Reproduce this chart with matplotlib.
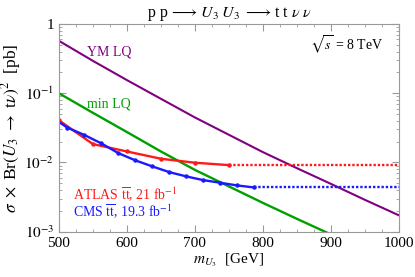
import matplotlib
matplotlib.use('Agg')
import matplotlib.pyplot as plt
from matplotlib.ticker import FixedLocator, NullFormatter, LogLocator

plt.rcParams['font.family'] = ['Liberation Serif', 'DejaVu Serif']
plt.rcParams['mathtext.fontset'] = 'stix'

# theory curves
m_theory = [500, 550, 600, 650, 700, 750, 800, 850, 900, 950, 1000]
ym_lq = [0.573, 0.294, 0.155, 0.0832, 0.0447, 0.0251, 0.0141, 0.00826, 0.0049, 0.00288, 0.00172]
m_min = [500, 550, 600, 650, 700, 750, 800, 850, 900]
min_lq = [0.1, 0.0521, 0.0275, 0.0144, 0.0078, 0.0045, 0.0026, 0.00153, 0.00091]

# ATLAS limit
m_atlas = [500, 550, 600, 650, 700, 750]
atlas = [0.0406, 0.0184, 0.0144, 0.0113, 0.0099, 0.00914]
m_atlas_ext = [750, 1000]
atlas_ext = [0.00914, 0.00914]

# CMS limit
m_cms = [500, 512.5, 537.5, 562.5, 587.5, 612.5, 637.5, 662.5, 687.5, 712.5, 737.5, 762.5, 787.5]
cms = [0.0384, 0.0318, 0.0249, 0.0188, 0.0136, 0.0107, 0.00875, 0.00723, 0.00627, 0.00554,
       0.00508, 0.00464, 0.00434]
m_cms_ext = [787.5, 1000]
cms_ext = [0.00434, 0.00434]

fig = plt.figure(figsize=(4.15, 2.77), dpi=100)
ax = fig.add_axes([0.142, 0.164, 0.819, 0.749])

purple = '#800080'
green = '#00a000'
red = '#ff1a1a'
blue = '#1a1aff'

ax.plot(m_theory, ym_lq, color=purple, lw=1.5)
ax.plot(m_min, min_lq, color=green, lw=1.7)
ax.plot(m_atlas, atlas, color=red, lw=1.7, marker='o', ms=2.2)
ax.plot(m_atlas_ext, atlas_ext, color=red, lw=1.7, ls=(0, (1, 0.8)))
ax.plot(m_cms, cms, color=blue, lw=1.7, marker='o', ms=2.2, markevery=range(1, len(m_cms)))
ax.plot(m_cms_ext, cms_ext, color=blue, lw=1.7, ls=(0, (1, 0.8)))

ax.set_yscale('log')
ax.set_xlim(500, 1000)
ax.set_ylim(1e-3, 1)
ax.set_xticks([500, 600, 700, 800, 900, 1000])
ax.xaxis.set_minor_locator(FixedLocator(range(500, 1001, 25)))
ax.set_yticks([1e-3, 1e-2, 1e-1, 1])
ax.set_yticklabels([r'$10^{-3}$', r'$10^{-2}$', r'$10^{-1}$', '1'])
ax.yaxis.set_minor_locator(LogLocator(base=10, subs=range(2, 10)))
ax.yaxis.set_minor_formatter(NullFormatter())

for s in ax.spines.values():
    s.set_color('#999999')
ax.tick_params(which='both', direction='in', top=True, right=True, color='#999999',
               labelsize=11)
ax.tick_params(axis='x', pad=4)
ax.tick_params(which='major', length=5)
ax.tick_params(which='minor', length=2.5)

ax.set_title(r'p p$\,\longrightarrow\, U_3\;U_3\;\longrightarrow\,$t t $\nu\;\nu$', fontsize=11.5, pad=5)
ax.set_xlabel(r'$m_{U_3}$  [GeV]', fontsize=11, labelpad=1)
ax.set_ylabel(r'$\sigma\ \times\ $Br$(U_3\ \rightarrow\ $t$\nu)^2$  [pb]', fontsize=12.5, labelpad=1)

ax.text(0.082, 0.865, 'YM LQ', color=purple, fontsize=10, transform=ax.transAxes, va='center')
ax.text(0.082, 0.614, 'min LQ', color=green, fontsize=10, transform=ax.transAxes, va='center')
ax.text(0.955, 0.899, r'$\sqrt{s}$ = 8 TeV', color='black', fontsize=10,
        transform=ax.transAxes, va='center', ha='right')
ax.text(0.041, 0.176, r'ATLAS $\overline{\rm tt}$, 21 fb$^{-1}$', color=red, fontsize=10,
        transform=ax.transAxes, va='center')
ax.text(0.041, 0.094, r'CMS $\overline{\rm tt}$, 19.3 fb$^{-1}$', color=blue, fontsize=10,
        transform=ax.transAxes, va='center')

plt.savefig('out.png', dpi=100)
